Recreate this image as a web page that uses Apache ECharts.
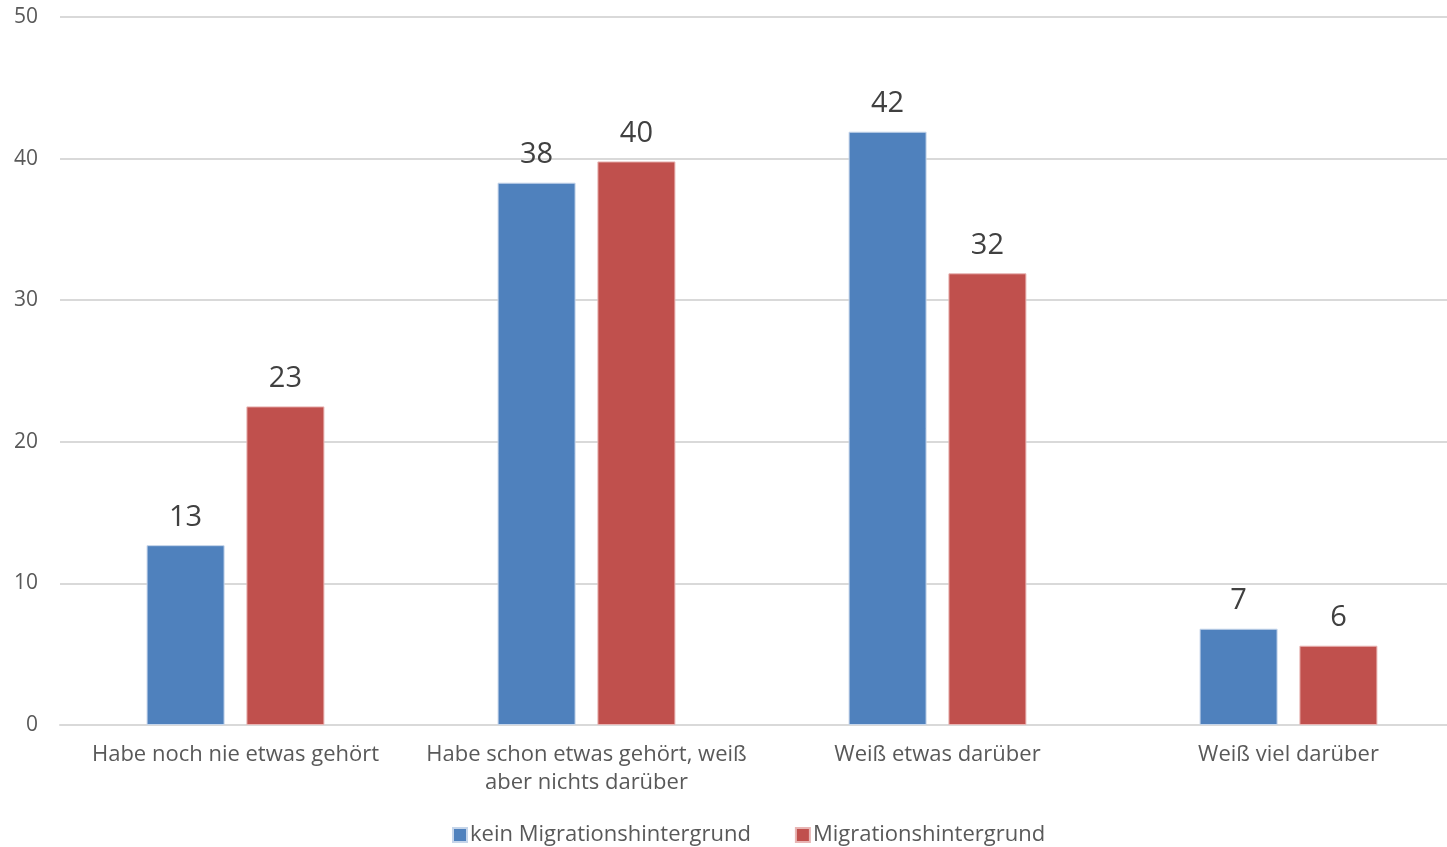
<!DOCTYPE html>
<html><head><meta charset="utf-8">
<script src="https://cdn.jsdelivr.net/npm/echarts@6/dist/echarts.min.js"></script>
<style>html,body{margin:0;padding:0;background:#fff}#c{width:1447px;height:847px}</style>
</head><body><div id="c"></div>
<script>
const categories = ['Habe noch nie etwas gehört', 'Habe schon etwas gehört, weiß\naber nichts darüber', 'Weiß etwas darüber', 'Weiß viel darüber'];
const seriesNames = ['kein Migrationshintergrund', 'Migrationshintergrund'];
const keinMigration = [12.7, 38.3, 41.9, 6.8];
const migration = [22.5, 39.8, 31.9, 5.6];
const yTicks = [0, 10, 20, 30, 40, 50];

const font = '"Open Sans", "Noto Sans", sans-serif';
const chart = echarts.init(document.getElementById('c'));
const lbl = {show: true, position: 'top', distance: 13, fontSize: 29, color: '#404040', fontFamily: font,
  formatter: p => Math.round(p.value)};
chart.setOption({
  animation: false,
  grid: {left: 60, right: -17, top: 17, bottom: 122, containLabel: false, outerBoundsMode: 'none'},
  legend: {bottom: -4, left: 447, itemWidth: 14, itemHeight: 14, itemGap: 44, icon: 'rect',
    textStyle: {fontSize: 22, color: '#595959', fontFamily: font, padding: [0, 0, 0, -2]},
    data: seriesNames},
  xAxis: {type: 'category', data: categories,
    axisLine: {lineStyle: {color: '#d9d9d9', width: 2}}, axisTick: {show: false},
    axisLabel: {fontSize: 22, color: '#595959', fontFamily: font, margin: 16, lineHeight: 28, interval: 0}},
  yAxis: {type: 'value', min: yTicks[0], max: yTicks[yTicks.length - 1], interval: 10,
    axisLine: {show: false}, axisTick: {show: false},
    splitLine: {lineStyle: {color: '#d9d9d9', width: 2}},
    axisLabel: {fontSize: 21, color: '#595959', fontFamily: font, margin: 22}},
  series: [
    {name: seriesNames[0], type: 'bar', data: keinMigration, barWidth: 78, barGap: '28%',
      itemStyle: {color: '#4f81bd', borderColor: '#c5d5ea', borderWidth: 1}, label: lbl},
    {name: seriesNames[1], type: 'bar', data: migration, barWidth: 78,
      itemStyle: {color: '#c0504d', borderColor: '#e8b5b4', borderWidth: 1}, label: lbl}
  ]
});
</script></body></html>
